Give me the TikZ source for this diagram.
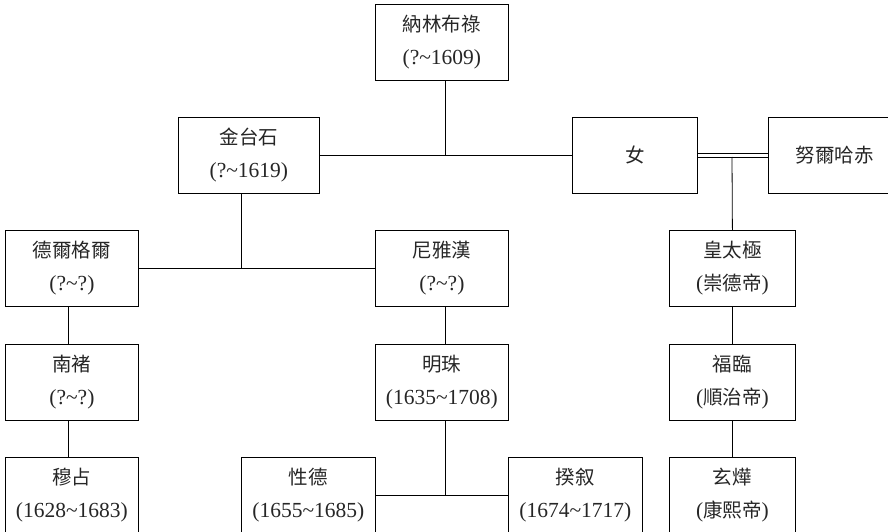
\documentclass[tikz,border=0pt]{standalone}
\usepackage{fontspec}
\setmainfont{Liberation Serif}
\newfontfamily\cjk{Noto Sans CJK TC}
\newcommand\zh[1]{{\cjk\fontsize{19.5}{33}\selectfont #1}}
\usetikzlibrary{calc}
\tikzset{
  person/.style={draw, rectangle, inner sep=0pt, minimum height=76pt,
    anchor=north west, align=center, line width=0.8pt, text=black!85,
    font=\fontsize{21.5}{33}\selectfont},
  link/.style={line width=0.8pt},
}
\begin{document}
\begin{tikzpicture}[x=1pt,y=-1pt]
\useasboundingbox (0,0) rectangle (888,532);
\clip (0,0) rectangle (888,532);
% row 1
\node[person, minimum width=133pt] (n1) at (375,4) {\zh{納林布祿}\\(?\textasciitilde 1609)};
% row 2
\node[person, minimum width=141pt] (jt) at (178,117) {\zh{金台石}\\(?\textasciitilde 1619)};
\node[person, minimum width=125pt] (nv) at (572,117) {\zh{女}};
\node[person, minimum width=133pt] (nh) at (768,117) {\zh{努爾哈赤}};
% row 3
\node[person, minimum width=133pt] (dg) at (5,230) {\zh{德爾格爾}\\(?\textasciitilde ?)};
\node[person, minimum width=133pt] (ny) at (375,230) {\zh{尼雅漢}\\(?\textasciitilde ?)};
\node[person, minimum width=126pt] (ht) at (669,230) {\zh{皇太極}\\(\zh{崇德帝})};
% row 4
\node[person, minimum width=133pt] (nc) at (5,344) {\zh{南褚}\\(?\textasciitilde ?)};
\node[person, minimum width=133pt] (mz) at (375,344) {\zh{明珠}\\(1635\textasciitilde 1708)};
\node[person, minimum width=126pt] (fl) at (669,344) {\zh{福臨}\\(\zh{順治帝})};
% row 5
\node[person, minimum width=133pt] (mzh) at (5,457) {\zh{穆占}\\(1628\textasciitilde 1683)};
\node[person, minimum width=134pt] (xd) at (241,457) {\zh{性德}\\(1655\textasciitilde 1685)};
\node[person, minimum width=134pt] (kx) at (508,457) {\zh{揆叙}\\(1674\textasciitilde 1717)};
\node[person, minimum width=126pt] (xy) at (669,457) {\zh{玄燁}\\(\zh{康熙帝})};
% junction coordinates
\coordinate (m1) at (445,155);
\coordinate (m2) at (241,268);
\coordinate (colA) at (68,0);
\coordinate (colB) at (445,0);
\coordinate (m3) at (445,495);
\coordinate (dj) at (732,157);
% connectors
\draw[link] (jt.east) -- (nv.west);
\draw[link] (n1.south -| m1) -- (m1);
\draw[link] (dg.east) -- (ny.west);
\draw[link] (jt.south -| m2) -- (m2);
\draw[link] (dg.south -| colA) -- (nc.north -| colA);
\draw[link] (nc.south -| colA) -- (mzh.north -| colA);
\draw[link] (ny.south -| colB) -- (mz.north -| colB);
\draw[link] (xd.east) -- (kx.west);
\draw[link] (mz.south -| colB) -- (m3);
\draw[link] ([yshift=2pt]nv.east) -- ([yshift=2pt]nh.west);
\draw[link] ([yshift=-2pt]nv.east) -- ([yshift=-2pt]nh.west);
\draw[link] (dj) -- (ht.north);
\draw[link] (ht.south) -- (fl.north);
\draw[link] (fl.south) -- (xy.north);
\end{tikzpicture}
\end{document}
